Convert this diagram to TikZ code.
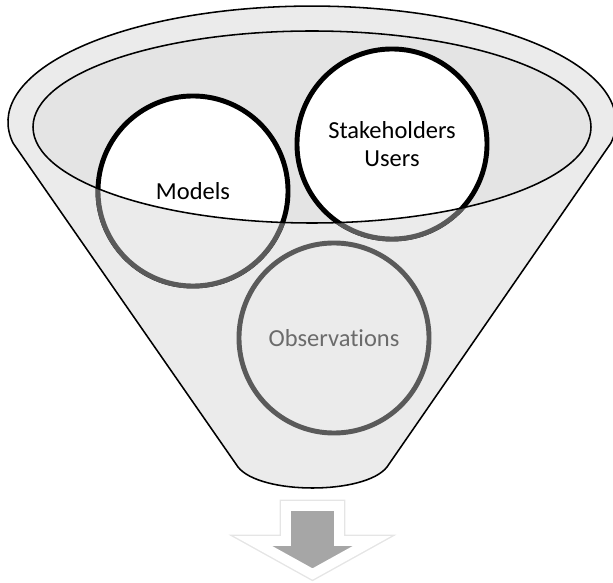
\documentclass[tikz,border=0pt]{standalone}
\usepackage{fontspec}
\setmainfont{Carlito}[Ligatures=NoCommon]
\usepackage{tikz}
\usetikzlibrary{positioning}
\definecolor{funnelgray}{HTML}{EBEBEB}
\definecolor{rimgray}{HTML}{E4E4E4}
\definecolor{dimgray}{HTML}{5A5A5A}
\definecolor{arrowgray}{HTML}{A6A6A6}
\tikzset{bubble/.style={circle,draw=black,fill=white,line width=3.5pt,minimum size=4.75cm,inner sep=0pt,align=center,font=\fontsize{17.4pt}{19.8pt}\selectfont},
  faded/.style={draw=dimgray,fill=funnelgray,line width=3.5pt},
  rim/.style={draw=black,line width=1.1pt}}

\begin{document}
\begin{tikzpicture}[x=0.025cm,y=-0.025cm]
            \useasboundingbox (0,0) rectangle (613,583);
            % funnel body
            \fill [funnelgray] (13,143)
                arc [start angle=169.6,end angle=370.4,x radius=304,y radius=116]
                -- (387,467)
                .. controls (365,495) and (260,495) .. (238,467)
                -- cycle
            ;
            \draw [rim] (13,143)
                arc [start angle=169.6,end angle=370.4,x radius=304,y radius=116]
                -- (387,467)
                .. controls (365,495) and (260,495) .. (238,467)
                -- cycle
            ;
            \fill [rimgray] (312,127) ellipse [x radius=279,y radius=96];
            \node [bubble] (models) at (193,191) {Models};
            \node [bubble] (stake) at (392,144) {Stakeholders\\Users};
            % front of the funnel
            \begin{scope}
                \clip (33,127) arc [start angle=180,end angle=0,x radius=279,y radius=96]
                    -- (613,127) -- (613,583) -- (0,583) -- (0,127) -- cycle;
                \draw [faded] (models.center) circle [radius=2.375cm];
                \draw [faded] (stake.center) circle [radius=2.375cm];
            \end{scope}
            \draw [rim] (312,127) ellipse [x radius=279,y radius=96];
            \node [bubble,draw=dimgray,fill=funnelgray,text=dimgray!90] (obs) at (334,338) {Observations};
            % arrow
            \draw [black!10,line width=9pt,miter limit=10] (286,506) -- (339,506) -- (339,541) -- (372,541)
                -- (312.5,574) -- (253,541) -- (286,541) -- cycle;
            \draw [white,fill=arrowgray,line width=7pt,miter limit=10] (286,506) -- (339,506) -- (339,541) -- (372,541)
                -- (312.5,574) -- (253,541) -- (286,541) -- cycle;
\end{tikzpicture}
\end{document}
